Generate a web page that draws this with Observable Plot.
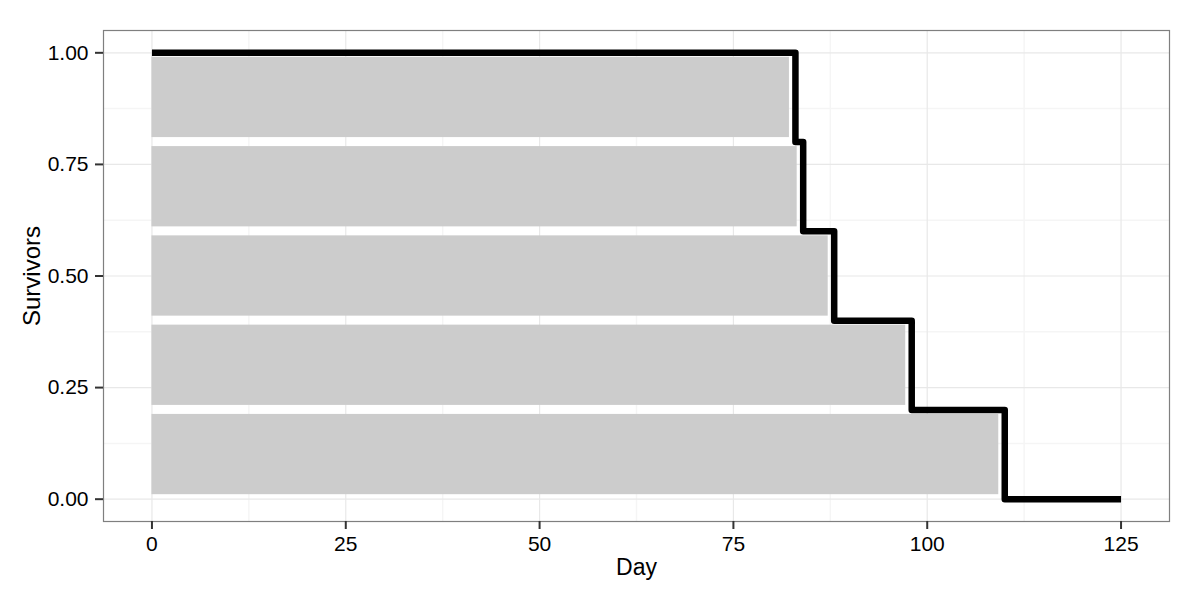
<!DOCTYPE html>
<html>
<head>
<meta charset="utf-8">
<script src="https://cdn.jsdelivr.net/npm/d3@7"></script>
<script src="https://cdn.jsdelivr.net/npm/@observablehq/plot@0.6"></script>
<style>
  html, body { margin: 0; padding: 0; background: #fff; }
  #chart svg { display: block; }
</style>
</head>
<body>
<div id="chart"></div>
<script>
// Data
const deathDays = [83, 84, 88, 98, 110];          // one bar per individual (top to bottom)
const barLow = [0.8, 0.6, 0.4, 0.2, 0.0];
const barHigh = [1.0, 0.8, 0.6, 0.4, 0.2];
const stepDays = [0, 83, 84, 88, 98, 110, 125];
const stepSurvivors = [1.0, 0.8, 0.6, 0.4, 0.2, 0.0, 0.0];
const xTicks = [0, 25, 50, 75, 100, 125];
const xMinor = [12.5, 37.5, 62.5, 87.5, 112.5];
const yTicks = [0, 0.25, 0.5, 0.75, 1.0];
const yMinor = [0.125, 0.375, 0.625, 0.875];

const bars = deathDays.map((d, i) => ({day: d, lo: barLow[i], hi: barHigh[i]}));
const steps = stepDays.map((d, i) => ({day: d, s: stepSurvivors[i]}));

const font = "'Liberation Sans', Arial, Helvetica, sans-serif";

const chart = Plot.plot({
  width: 1200,
  height: 600,
  marginLeft: 103,
  marginRight: 31,
  marginTop: 30,
  marginBottom: 79,
  style: {fontFamily: font, background: "#fff", color: "#000"},
  x: {domain: [-6.25, 131.25]},
  y: {domain: [-0.05, 1.05]},
  marks: [
    Plot.ruleX(xMinor, {stroke: "#f5f5f5", strokeWidth: 1.5}),
    Plot.ruleY(yMinor, {stroke: "#f5f5f5", strokeWidth: 1.5}),
    Plot.ruleX(xTicks, {stroke: "#e8e8e8", strokeWidth: 1.2}),
    Plot.ruleY(yTicks, {stroke: "#e8e8e8", strokeWidth: 1.2}),
    Plot.rect(bars, {
      x1: 0, x2: "day", y1: "lo", y2: "hi",
      fill: "#cccccc", insetTop: 4.5, insetBottom: 4.5, insetRight: 6
    }),
    Plot.line(steps, {
      x: "day", y: "s", curve: "step-after",
      stroke: "#000", strokeWidth: 6.5, strokeLinejoin: "round", strokeLinecap: "butt"
    }),
    Plot.frame({stroke: "#7f7f7f", strokeWidth: 1.2}),
    Plot.axisX({
      ticks: xTicks, tickSize: 8, tickPadding: 7, fontSize: 21,
      label: null, stroke: "#333", strokeWidth: 2
    }),
    Plot.axisY({
      ticks: yTicks, tickSize: 8, tickPadding: 7, fontSize: 21,
      tickFormat: d3.format(".2f"), label: null, stroke: "#333", strokeWidth: 2
    }),
    Plot.text(["Day"], {
      frameAnchor: "bottom", text: d => d, dy: 53, lineAnchor: "bottom",
      textAnchor: "middle", fontSize: 23, fill: "#000"
    }),
    Plot.text(["Survivors"], {
      frameAnchor: "left", text: d => d, dx: -71, rotate: -90,
      textAnchor: "middle", lineAnchor: "middle", fontSize: 24, fill: "#000"
    })
  ]
});
document.getElementById("chart").appendChild(chart);
</script>
</body>
</html>
